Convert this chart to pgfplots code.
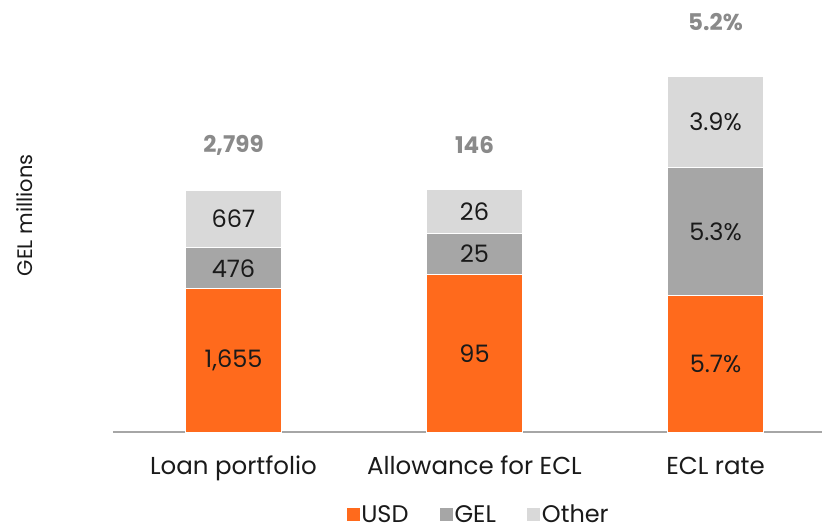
\documentclass[border=0pt]{standalone}
\usepackage{pgfplots}
\pgfplotsset{compat=1.18}
\usepackage{fontspec}
\setmainfont{Poppins}
\definecolor{cusd}{HTML}{FF6A1C}
\definecolor{cgel}{HTML}{A6A6A6}
\definecolor{coth}{HTML}{D9D9D9}
\definecolor{ctot}{HTML}{8A8A8A}
\definecolor{ctxt}{HTML}{1A1A1A}
\newcommand{\fs}{\fontsize{24bp}{28bp}\selectfont}
\newcommand{\fc}{\fontsize{24.5bp}{28bp}\selectfont}
\begin{document}
\begin{tikzpicture}
\useasboundingbox (-113bp,-97bp) rectangle (709bp,432bp);
\begin{axis}[
  scale only axis, width=709bp, height=411.4bp,
  xmin=-0.5, xmax=2.4419, ymin=0, ymax=170,
  clip=false,
  ybar stacked, bar width=96bp,
  axis lines*=left,
  y axis line style={draw=none},
  x axis line style={draw=cgel, line width=1.5bp},
  ytick=\empty,
  xtick={0,1,2},
  xticklabels={Loan portfolio, Allowance for ECL, ECL rate},
  major tick length=0pt,
  xticklabel style={anchor=base, yshift=-42bp, font=\fc, text=ctxt},
  ylabel={GEL millions},
  ylabel style={at={(rel axis cs:-0.124,0.527)}, anchor=center, font=\fontsize{21bp}{24bp}\selectfont, text=ctxt},
  nodes near coords, point meta=explicit symbolic,
  every node near coord/.append style={anchor=center, font=\fs, text=ctxt},
  legend style={at={(rel axis cs:0.5155,-0.2005)}, anchor=center, draw=none, fill=none,
    legend columns=-1, font=\fs, text=ctxt,
    /tikz/every even column/.append style={column sep=30bp, nodes={xshift=-10bp}},
    /tikz/every odd column/.append style={column sep=0bp},
    nodes={inner sep=1.5bp}},
  legend image code/.code={\path[#1,draw=none] (0bp,-6.5bp) rectangle (13bp,6.5bp);},
]
\addplot[fill=cusd, draw=white, line width=1bp] coordinates {(0,59.13)[1,655] (1,65.07)[95] (2,56.2)[5.7\%]};
\addplot[fill=cgel, draw=white, line width=1bp] coordinates {(0,17.01)[476] (1,17.12)[25] (2,52.9)[5.3\%]};
\addplot[fill=coth, draw=white, line width=1bp] coordinates {(0,23.83)[667] (1,17.81)[26] (2,38.0)[3.9\%]};
\addplot[fill=none, draw=none, every node near coord/.append style={font=\fontsize{23bp}{27bp}\selectfont\bfseries, text=ctot}] coordinates {(0,37.2)[2,799] (1,37.2)[146] (2,44.6)[5.2\%]};
\legend{USD,GEL,Other}
\end{axis}
\end{tikzpicture}
\end{document}
